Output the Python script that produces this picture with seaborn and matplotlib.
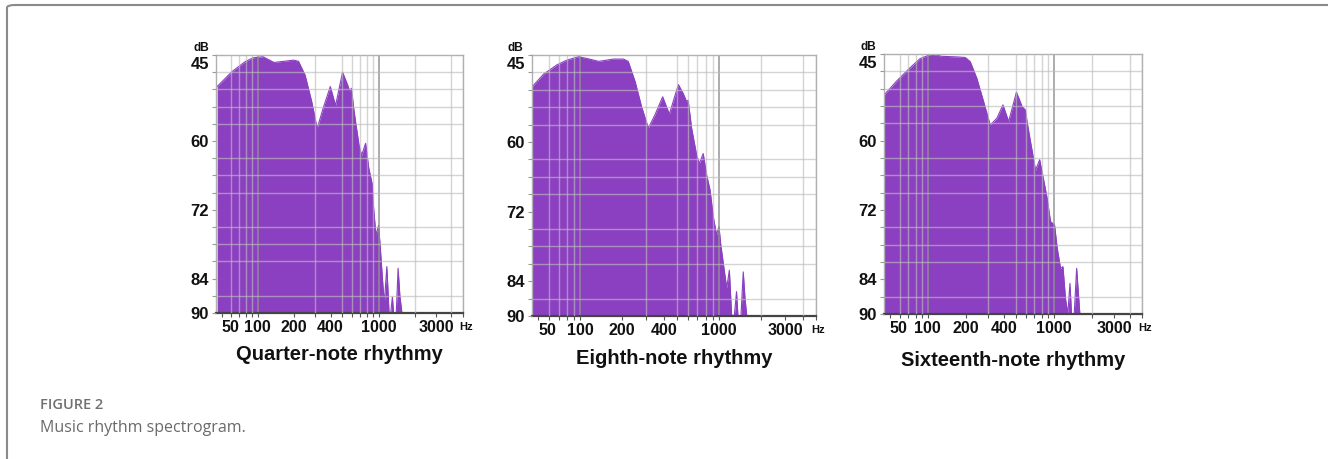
import numpy as np
import pandas as pd
import seaborn as sns
import matplotlib.pyplot as plt
from matplotlib.patches import FancyBboxPatch
from matplotlib.ticker import FixedLocator, NullFormatter
from matplotlib.transforms import ScaledTranslation

# spectrum: frequency (Hz) and level (dB, 45 on top, 90 at bottom)
quarter_freq = [46, 61, 78, 91, 110, 136, 198, 217, 246, 279, 310, 347, 398, 440, 503, 553,
                579, 595, 627, 688, 724, 780, 830, 883, 910, 950, 1000, 1033, 1090, 1115,
                1170, 1220, 1260, 1300, 1330, 1400, 1450, 1500, 1560]
quarter_db = [50.5, 47.9, 46.2, 45.5, 45.3, 46.3, 45.9, 46.1, 48.5, 53.1, 57.8, 54.3, 50.5,
              53.8, 48.0, 50.2, 51.4, 50.8, 54.9, 60.7, 62.5, 60.4, 64.8, 67.4, 71.8, 76.4,
              74.7, 78.7, 85.7, 88.3, 81.9, 90.0, 90.0, 87.2, 90.0, 90.0, 82.2, 87.0, 90.0]

eighth_freq = [45, 54.5, 68, 80, 97, 112, 136, 174, 205, 222, 249, 277, 310, 346, 393, 439,
               510, 552, 584, 600, 635, 690, 722, 770, 815, 863, 910, 961, 1000, 1028, 1087,
               1137, 1188, 1233, 1290, 1338, 1370, 1440, 1496, 1540, 1587]
eighth_db = [50.5, 48.3, 46.7, 45.9, 45.3, 45.6, 46.1, 45.7, 45.7, 46.1, 49.6, 53.9, 57.6,
             55.3, 52.2, 55.2, 50.1, 51.6, 53.0, 52.8, 57.6, 62.2, 63.7, 62.0, 65.7, 68.3,
             72.9, 76.0, 74.6, 77.5, 81.8, 85.2, 82.1, 89.8, 90.0, 85.8, 90.0, 90.0, 82.4,
             87.0, 90.0]

sixteenth_freq = [45, 56.6, 72.3, 86.9, 107.6, 129, 170, 198, 217, 245, 277, 313, 354, 395,
                  438, 505, 560, 595, 613, 652, 716, 772, 830, 885, 941, 1013, 1063, 1131,
                  1181, 1236, 1290, 1342, 1380, 1450, 1516, 1560, 1608]
sixteenth_db = [52.1, 49.7, 47.4, 45.8, 45.0, 45.4, 45.5, 45.6, 46.3, 49.2, 53.2, 57.3, 56.1,
                53.8, 56.7, 51.6, 54.1, 54.7, 56.7, 60.1, 65.1, 63.3, 66.8, 70.0, 74.0, 74.6,
                78.6, 82.1, 81.8, 87.3, 90.0, 84.7, 90.0, 90.0, 82.1, 86.0, 90.0]

titles = ["Quarter-note rhythmy", "Eighth-note rhythmy", "Sixteenth-note rhythmy"]
x_ticks = [50, 100, 200, 400, 1000, 3000]
x_minor = [50, 60, 70, 80, 90, 200, 300, 400, 500, 600, 700, 800, 900,
           2000, 3000, 4000, 5000]
decade_lines = [100, 1000]
y_ticks = [45, 60, 72, 84, 90]
y_minor = list(range(45, 91, 3))

sns.set_theme(style="white")
plt.rcParams['font.family'] = ['Liberation Sans', 'DejaVu Sans']

purple = "#8b3fc1"
fig = plt.figure(figsize=(13.28, 4.59), dpi=100)

# axes boxes in pixels (left, top, right, bottom)
boxes = [(216, 55, 463, 313), (532, 55, 816, 316), (884, 54, 1142, 314)]
title_y = [355, 359, 360]
W, H = 1328, 459

panels = [(quarter_freq, quarter_db), (eighth_freq, eighth_db), (sixteenth_freq, sixteenth_db)]

for i, (freq, db) in enumerate(panels):
    l, t, r, b = boxes[i]
    ax = fig.add_axes([l / W, 1 - b / H, (r - l) / W, (b - t) / H])
    df = pd.DataFrame({"freq": freq, "db": db})
    ax.fill_between(df["freq"], df["db"], 90, color=purple, linewidth=0, zorder=1)
    sns.lineplot(data=df, x="freq", y="db", ax=ax, color=purple, linewidth=0.8, zorder=1.2)

    ax.set_xscale("log")
    ax.set_xlim(45, 5000)
    ax.set_ylim(90, 45)
    ax.set_xlabel("")
    ax.set_ylabel("")

    ax.xaxis.set_major_locator(FixedLocator(x_ticks))
    ax.set_xticklabels([str(v) for v in x_ticks])
    ax.xaxis.set_minor_locator(FixedLocator(x_minor))
    ax.xaxis.set_minor_formatter(NullFormatter())
    ax.set_yticks(y_ticks)
    ax.set_yticklabels([str(v) for v in y_ticks])
    ax.yaxis.set_minor_locator(FixedLocator(y_minor))

    ax.set_axisbelow(False)
    ax.grid(True, which="minor", color="#bdbdbd", alpha=0.65, linewidth=1.0)
    ax.grid(False, which="major")
    for v in decade_lines:
        ax.axvline(v, color="#909090", alpha=0.8, linewidth=1.3, zorder=2.5)

    ax.tick_params(axis="x", which="major", labelsize=11.5, length=3, width=0.8,
                   color="#555555", pad=2, bottom=True)
    ax.tick_params(axis="x", which="minor", length=3, width=0.8, color="#555555", bottom=True)
    ax.tick_params(axis="y", which="both", labelsize=12, length=3, width=0.8,
                   color="#999999", pad=2, left=True)
    for lab in ax.get_xticklabels() + ax.get_yticklabels():
        lab.set_fontweight("bold")
        lab.set_color("#111111")
    # the 50 label sits a little right of its line, the 45 label a little below the top
    lab50 = ax.get_xticklabels()[0]
    lab50.set_transform(lab50.get_transform() + ScaledTranslation(0.09, 0, fig.dpi_scale_trans))
    lab45 = ax.get_yticklabels()[0]
    lab45.set_transform(lab45.get_transform() + ScaledTranslation(0, -0.08, fig.dpi_scale_trans))

    for side in ["top", "left", "right"]:
        ax.spines[side].set_color("#b0b0b0")
        ax.spines[side].set_linewidth(1.0)
    ax.spines["bottom"].set_color("#444444")
    ax.spines["bottom"].set_linewidth(1.6)

    ax.text(-0.06, 1.005, "dB", transform=ax.transAxes, ha="center", va="bottom",
            fontsize=8.5, fontweight="bold", color="#111111")
    ax.text(0.985, -0.035, "Hz", transform=ax.transAxes, ha="left", va="top",
            fontsize=8, fontweight="bold", color="#111111")

    fig.text((l + r) / 2 / W, 1 - title_y[i] / H, titles[i], ha="center", va="center",
             fontsize=14.5, fontweight="bold", color="#111111")

# caption and frame
fig.text(40 / W, 1 - 405 / H, "FIGURE 2", ha="left", va="center", fontsize=10.5,
         fontweight="semibold", color="#707070", family=["Open Sans", "DejaVu Sans"])
fig.text(40 / W, 1 - 428 / H, "Music rhythm spectrogram.", ha="left", va="center",
         fontsize=11.5, color="#6a6a6a", family=["Open Sans", "DejaVu Sans"])
frame = FancyBboxPatch((7 / W, -0.1), 1.2, 1 - 5 / H + 0.1,
                       boxstyle="round,pad=0,rounding_size=0.006",
                       transform=fig.transFigure, fill=False, edgecolor="#8a8a8a",
                       linewidth=1.5)
fig.patches.append(frame)

fig.savefig("out.png", dpi=100)
